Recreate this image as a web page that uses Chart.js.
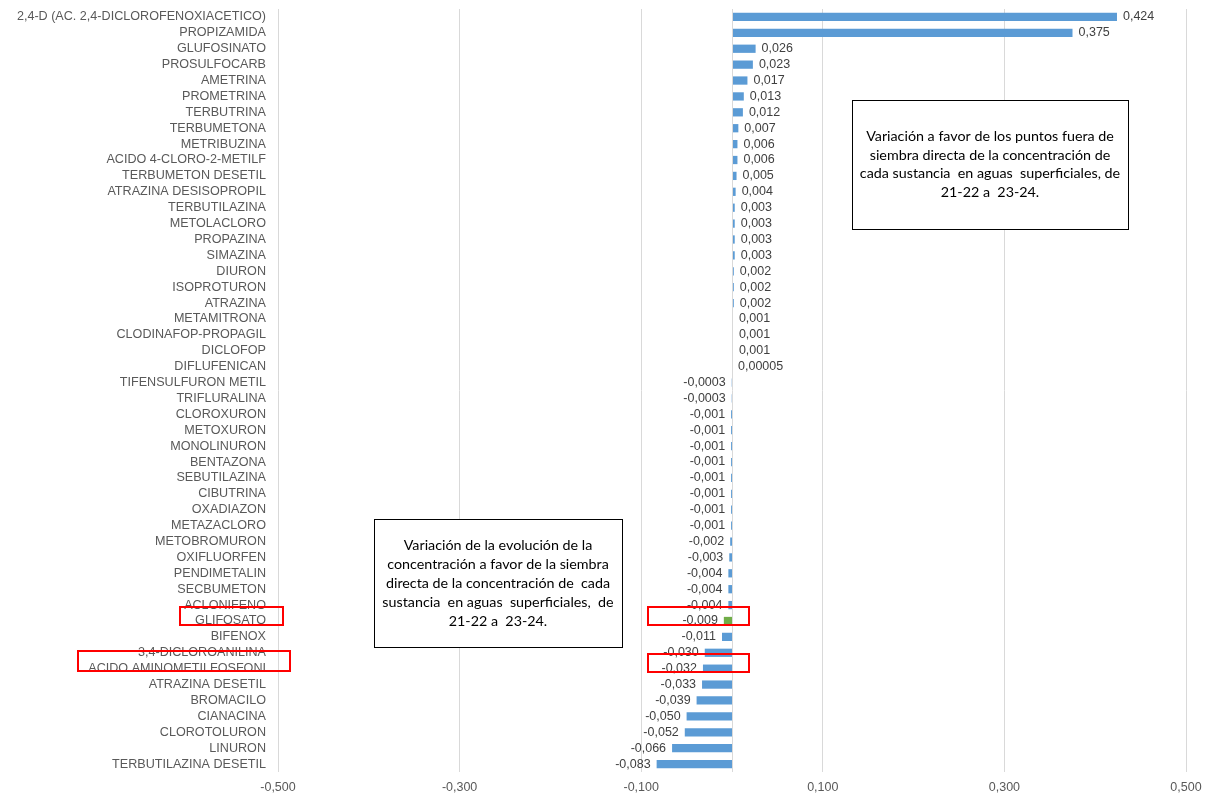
<!DOCTYPE html>
<html>
<head>
<meta charset="utf-8">
<script src="https://cdn.jsdelivr.net/npm/chart.js@4/dist/chart.umd.min.js"></script>
<style>
  html, body { margin: 0; padding: 0; background: #fff; }
  #wrap { width: 1210px; height: 796px; }
</style>
</head>
<body>
<div id="wrap"><canvas id="myChart"></canvas></div>
<script>
// Data
var substances = [
    "2,4-D (AC. 2,4-DICLOROFENOXIACETICO)", "PROPIZAMIDA", "GLUFOSINATO", "PROSULFOCARB",
    "AMETRINA", "PROMETRINA", "TERBUTRINA", "TERBUMETONA", "METRIBUZINA",
    "ACIDO 4-CLORO-2-METILF", "TERBUMETON DESETIL", "ATRAZINA DESISOPROPIL",
    "TERBUTILAZINA", "METOLACLORO", "PROPAZINA", "SIMAZINA", "DIURON", "ISOPROTURON",
    "ATRAZINA", "METAMITRONA", "CLODINAFOP-PROPAGIL", "DICLOFOP", "DIFLUFENICAN",
    "TIFENSULFURON METIL", "TRIFLURALINA", "CLOROXURON", "METOXURON", "MONOLINURON",
    "BENTAZONA", "SEBUTILAZINA", "CIBUTRINA", "OXADIAZON", "METAZACLORO",
    "METOBROMURON", "OXIFLUORFEN", "PENDIMETALIN", "SECBUMETON", "ACLONIFENO",
    "GLIFOSATO", "BIFENOX", "3,4-DICLOROANILINA", "ACIDO AMINOMETILFOSFONI",
    "ATRAZINA DESETIL", "BROMACILO", "CIANACINA", "CLOROTOLURON", "LINURON",
    "TERBUTILAZINA DESETIL"
];
var variation = [
    0.424, 0.375, 0.026, 0.023, 0.017, 0.013, 0.012, 0.007, 0.006, 0.006, 0.005, 0.004,
    0.003, 0.003, 0.003, 0.003, 0.002, 0.002, 0.002, 0.001, 0.001, 0.001, 0.00005,
    -0.0003, -0.0003, -0.001, -0.001, -0.001, -0.001, -0.001, -0.001, -0.001, -0.001,
    -0.002, -0.003, -0.004, -0.004, -0.004, -0.009, -0.011, -0.030, -0.032,
    -0.033, -0.039, -0.050, -0.052, -0.066, -0.083
];
var highlighted = ["GLIFOSATO"];
var xTicks = [-0.5, -0.3, -0.1, 0.1, 0.3, 0.5];

var noteRight = [
    "Variación a favor de los puntos fuera de",
    "siembra directa de la concentración de",
    "cada sustancia  en aguas  superficiales, de",
    "21-22 a  23-24."
];
var noteLeft = [
    "Variación de la evolución de la",
    "concentración a favor de la siembra",
    "directa de la concentración de  cada",
    "sustancia  en aguas  superficiales,  de",
    "21-22 a  23-24."
];

function fmt(v) {
    var s = Math.abs(v) < 0.0005 && v !== 0 ? String(v) : v.toFixed(3);
    return s.replace(".", ",");
}

// Bar value labels + zero line + notes
var extrasPlugin = {
    id: "extras",
    afterDatasetsDraw: function(chart) {
        var ctx = chart.ctx;
        var x = chart.scales.x;
        var area = chart.chartArea;
        var zero = Math.round(x.getPixelForValue(0)) + 0.5;
        ctx.save();
        ctx.strokeStyle = "#d9d9d9";
        ctx.lineWidth = 1;
        ctx.beginPath();
        ctx.moveTo(zero, area.top);
        ctx.lineTo(zero, area.bottom);
        ctx.stroke();

        ctx.font = "12.5px 'Liberation Sans', Arial, sans-serif";
        ctx.fillStyle = "#404040";
        ctx.textBaseline = "middle";
        chart.getDatasetMeta(0).data.forEach(function(bar, i) {
            var v = variation[i];
            if (v >= 0) {
                ctx.textAlign = "left";
                ctx.fillText(fmt(v), bar.x + 6, bar.y);
            } else {
                ctx.textAlign = "right";
                ctx.fillText(fmt(v), bar.x - 6, bar.y);
            }
        });
        ctx.restore();
    },
    afterDraw: function(chart) {
        var ctx = chart.ctx;
        ctx.save();
        // note boxes
        function note(lines, x0, y0, w, h, lh) {
            ctx.fillStyle = "#fff";
            ctx.fillRect(x0, y0, w, h);
            ctx.strokeStyle = "#000";
            ctx.lineWidth = 1;
            ctx.strokeRect(x0 + 0.5, y0 + 0.5, w, h);
            ctx.fillStyle = "#000";
            ctx.font = "14.3px Lato, 'Open Sans', sans-serif";
            ctx.textAlign = "center";
            ctx.textBaseline = "middle";
            var start = y0 + h / 2 - (lines.length - 1) * lh / 2;
            lines.forEach(function(t, i) {
                ctx.fillText(t, x0 + w / 2, start + i * lh);
            });
        }
        note(noteRight, 852, 100, 276, 129, 18.7);
        note(noteLeft, 374, 519, 248, 128, 19);

        // red highlight rectangles
        ctx.strokeStyle = "#ff0000";
        ctx.lineWidth = 2;
        [[180, 607, 103, 18], [78, 651, 212, 20], [648, 607, 101, 18], [648, 654, 101, 18]].forEach(function(r) {
            ctx.strokeRect(r[0], r[1], r[2], r[3]);
        });
        ctx.restore();
    }
};

var chartCtx = document.getElementById("myChart").getContext("2d");

var variationChart = new Chart(chartCtx, {
    type: "bar",
    data: {
        labels: substances,
        datasets: [{
            label: "Variación",
            data: variation,
            backgroundColor: substances.map(function(s) {
                return highlighted.indexOf(s) >= 0 ? "#70ad47" : "#5b9bd5";
            }),
            barPercentage: 0.52,
            categoryPercentage: 1,
        }],
    },
    options: {
        indexAxis: "y",
        responsive: true,
        maintainAspectRatio: false,
        animation: false,
        layout: {
            padding: { top: 9, right: 24, bottom: 0, left: 0 },
        },
        plugins: {
            legend: { display: false },
            tooltip: { enabled: false },
        },
        scales: {
            x: {
                min: -0.5,
                max: 0.5,
                afterBuildTicks: function(scale) {
                    scale.ticks = xTicks.map(function(v) { return { value: v }; });
                },
                afterFit: function(scale) {
                    scale.height = 24;
                },
                grid: { color: "#d9d9d9", drawTicks: false },
                border: { display: false },
                ticks: {
                    padding: 8,
                    color: "#595959",
                    font: { family: "'Liberation Sans', Arial, sans-serif", size: 12.5 },
                    callback: function(v) { return fmt(v); },
                },
            },
            y: {
                afterFit: function(scale) {
                    scale.width = 278;
                    scale.paddingTop = 0;
                    scale.paddingBottom = 0;
                },
                grid: { display: false, drawTicks: false },
                border: { display: false },
                ticks: {
                    autoSkip: false,
                    padding: 12,
                    color: "#595959",
                    font: { family: "'Liberation Sans', Arial, sans-serif", size: 12.6 },
                },
            },
        },
    },
    plugins: [extrasPlugin],
});
</script>
</body>
</html>
